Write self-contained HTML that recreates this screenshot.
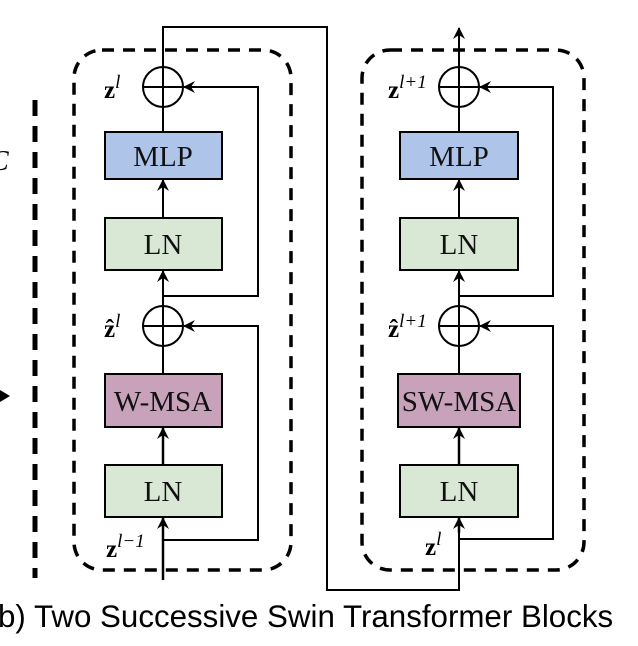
<!DOCTYPE html>
<html><head><meta charset="utf-8"><style>
body{margin:0;background:#fff;width:638px;height:646px;overflow:hidden}
svg{display:block}
</style></head><body>
<svg width="638" height="646" viewBox="0 0 638 646" xmlns="http://www.w3.org/2000/svg">
<defs>
<marker id="a" markerWidth="12" markerHeight="12" refX="11" refY="6" orient="auto" markerUnits="userSpaceOnUse">
<path d="M0,0 L12,6 L0,12 L4,6 Z" fill="#000"/></marker>
</defs>
<g fill="none" stroke="#000">
<line x1="35" y1="100" x2="35" y2="578" stroke-width="5" stroke-dasharray="16,10"/>
<rect x="74" y="50" width="217" height="520" rx="28" stroke-width="3.5" stroke-dasharray="12,9"/>
<rect x="362" y="50" width="222" height="520" rx="28" stroke-width="3.5" stroke-dasharray="12,9"/>
<polyline points="163,67 163,27 327,27 327,590 459,590 459,533" stroke-width="2"/>
<line x1="163" y1="580" x2="163" y2="518" stroke-width="2.5" marker-end="url(#a)"/>
<line x1="163" y1="465" x2="163" y2="428" stroke-width="2.5" marker-end="url(#a)"/>
<line x1="163" y1="374" x2="163" y2="306" stroke-width="2"/>
<line x1="163" y1="306" x2="163" y2="271" stroke-width="2" marker-end="url(#a)"/>
<line x1="163" y1="218" x2="163" y2="180" stroke-width="2" marker-end="url(#a)"/>
<line x1="163" y1="132" x2="163" y2="67" stroke-width="2"/>
<polyline points="163,540 258,540 258,326 184,326" stroke-width="2" marker-end="url(#a)"/>
<polyline points="163,296 258,296 258,87 184,87" stroke-width="2" marker-end="url(#a)"/>
<line x1="459" y1="533" x2="459" y2="518" stroke-width="2.5" marker-end="url(#a)"/>
<line x1="459" y1="465" x2="459" y2="428" stroke-width="2.5" marker-end="url(#a)"/>
<line x1="459" y1="374" x2="459" y2="306" stroke-width="2"/>
<line x1="459" y1="306" x2="459" y2="271" stroke-width="2" marker-end="url(#a)"/>
<line x1="459" y1="218" x2="459" y2="180" stroke-width="2" marker-end="url(#a)"/>
<line x1="459" y1="132" x2="459" y2="28" stroke-width="2" marker-end="url(#a)"/>
<polyline points="459,539 553,539 553,326 480,326" stroke-width="2" marker-end="url(#a)"/>
<polyline points="459,296 553,296 553,87 480,87" stroke-width="2" marker-end="url(#a)"/>
<g stroke-width="2">
<circle cx="163" cy="87" r="20"/><line x1="143" y1="87" x2="183" y2="87"/>
<circle cx="163" cy="326" r="20"/><line x1="143" y1="326" x2="183" y2="326"/><line x1="163" y1="306" x2="163" y2="346"/>
<circle cx="459" cy="87" r="20"/><line x1="439" y1="87" x2="479" y2="87"/>
<circle cx="459" cy="326" r="20"/><line x1="439" y1="326" x2="479" y2="326"/><line x1="459" y1="306" x2="459" y2="346"/>
</g>
</g>
<path d="M0,390 L10,396 L0,402 Z" fill="#000"/>
<g stroke="#000" stroke-width="2">
<rect x="105" y="132" width="117" height="47" fill="#aec4e8"/>
<rect x="105" y="218" width="117" height="52" fill="#d9e7d5"/>
<rect x="105" y="374" width="117" height="53" fill="#c8a2bb"/>
<rect x="105" y="465" width="117" height="52" fill="#d9e7d5"/>
<rect x="400" y="132" width="118" height="47" fill="#aec4e8"/>
<rect x="400" y="218" width="118" height="52" fill="#d9e7d5"/>
<rect x="398" y="374" width="122" height="53" fill="#c8a2bb"/>
<rect x="400" y="465" width="118" height="52" fill="#d9e7d5"/>
</g>
<g font-family="Liberation Serif, serif" font-size="29" text-anchor="middle" fill="#111">
<text x="163" y="166">MLP</text>
<text x="163" y="254">LN</text>
<text x="163" y="411">W-MSA</text>
<text x="163" y="501">LN</text>
<text x="459" y="166">MLP</text>
<text x="459" y="254">LN</text>
<text x="459" y="411">SW-MSA</text>
<text x="459" y="501">LN</text>
</g>
<g font-family="Liberation Serif, serif" fill="#000">
<text x="104" y="98" font-size="25" font-weight="bold">z<tspan font-style="italic" font-weight="normal" font-size="19" dy="-10">l</tspan></text>
<text x="104" y="337" font-size="25" font-weight="bold">ẑ<tspan font-style="italic" font-weight="normal" font-size="19" dy="-10">l</tspan></text>
<text x="106" y="557" font-size="25" font-weight="bold">z<tspan font-style="italic" font-weight="normal" font-size="19" dy="-10">l−1</tspan></text>
<text x="388" y="98" font-size="25" font-weight="bold">z<tspan font-style="italic" font-weight="normal" font-size="19" dy="-10">l+1</tspan></text>
<text x="388" y="337" font-size="25" font-weight="bold">ẑ<tspan font-style="italic" font-weight="normal" font-size="19" dy="-10">l+1</tspan></text>
<text x="425" y="555" font-size="25" font-weight="bold">z<tspan font-style="italic" font-weight="normal" font-size="19" dy="-10">l</tspan></text>
<text x="-10" y="170" font-size="28" font-style="italic">C</text>
</g>
<text x="-2" y="627" font-family="Liberation Sans, sans-serif" font-size="31.3" fill="#000">b) Two Successive Swin Transformer Blocks</text>
</svg>
</body></html>
